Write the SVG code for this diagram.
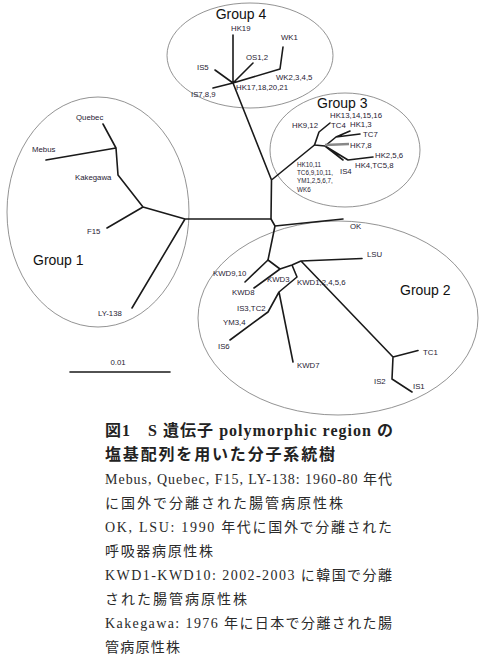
<svg xmlns="http://www.w3.org/2000/svg" width="485" height="657" viewBox="0 0 485 657">
<style>
.grp{fill:none;stroke:#777;stroke-width:0.8}
.br{fill:none;stroke:#1a1a1a;stroke-width:1.6;stroke-linejoin:round;stroke-linecap:round}
.lb{font-family:"Liberation Sans",Arial,sans-serif;font-size:7.8px;fill:#1f2233}
.sm{font-size:6.3px}
.gl{font-family:"Liberation Sans",Arial,sans-serif;font-size:14px;fill:#111}
.ti{font-family:"Liberation Serif","Noto Sans CJK JP",serif;font-size:16px;font-weight:bold;fill:#222}
.tb{font-family:"Liberation Serif","Noto Sans CJK JP",serif;font-size:14px;fill:#2a2a2a}
</style>
<rect width="485" height="657" fill="#fff"/>
<g id="group4">
<ellipse class="grp" cx="250" cy="55.5" rx="83" ry="52.5"/>
<text class="gl" x="241" y="19" text-anchor="middle">Group 4</text>
</g>
<g id="group3">
<ellipse class="grp" cx="345" cy="150" rx="75" ry="57"/>
<text class="gl" x="317" y="108">Group 3</text>
</g>
<g id="group1">
<ellipse class="grp" cx="98" cy="212" rx="91" ry="115"/>
<text class="gl" x="33" y="265">Group 1</text>
</g>
<g id="group2">
<ellipse class="grp" cx="338" cy="318" rx="140" ry="97"/>
<text class="gl" x="400" y="295">Group 2</text>
</g>
<g id="connectors">
<path class="br" d="M233,83 L233,35 M233,83 L215,70 M233,83 L253,63 M233,83 L280,69 L283,47 M233,83 L213,88"/>
<path class="br" d="M233,83 L271.5,180 L314.5,145 M271.5,180 L271,219 L275,226 L343,219 M275,226 L268,260"/>
<path class="br" d="M271,219 L185,219 L143,207 L107,228 M185,219 L132,308 M143,207 L118,175 L116,148 L46,160 M116,148 L103,124"/>
<path class="br" d="M314.5,145 L319,132 L330,123 M314.5,145 L325,146 L336,137 L360,134 M336,137 L350,131 M325,146 L343,160 M325,146 L348,160 L373,157"/>
<path d="M325,145 L349,144" fill="none" stroke="#888" stroke-width="2.6"/>
<path class="br" d="M268,260 L245,282 M268,260 L280,269 L254,288 M280,269 L292,265 L301,261 L362,258.5 M301,261 L393,357 L418,350.5 M393,357 L392,379 L412,392 M292,265 L297,277 L279,292 L293,362 M279,292 L268,312 L230,340"/>
<path class="br" d="M70,372 L170,372"/>
</g>
<g id="labels4">
<text class="lb" x="231" y="31">HK19</text>
<text class="lb" x="197" y="70">IS5</text>
<text class="lb" x="246" y="60">OS1,2</text>
<text class="lb" x="281" y="40">WK1</text>
<text class="lb" x="276" y="80">WK2,3,4,5</text>
<text class="lb" x="191" y="97">IS7,8,9</text>
<text class="lb" x="236" y="90">HK17,18,20,21</text>
</g>
<g id="labels3">
<text class="lb" x="292" y="128">HK9,12</text>
<text class="lb" x="330" y="118">HK13,14,15,16</text>
<text class="lb" x="331" y="128">TC4</text>
<text class="lb" x="350" y="127">HK1,3</text>
<text class="lb" x="363" y="137">TC7</text>
<text class="lb" x="350" y="148">HK7,8</text>
<text class="lb" x="375" y="158">HK2,5,6</text>
<text class="lb" x="355" y="168">HK4,TC5,8</text>
<text class="lb" x="340" y="174">IS4</text>
<text class="lb sm" x="297" y="167">HK10,11</text>
<text class="lb sm" x="297" y="175">TC6,9,10,11,</text>
<text class="lb sm" x="297" y="183">YM1,2,5,6,7,</text>
<text class="lb sm" x="297" y="192">WK6</text>
</g>
<g id="labels1">
<text class="lb" x="76" y="120">Quebec</text>
<text class="lb" x="32" y="152">Mebus</text>
<text class="lb" x="75" y="180">Kakegawa</text>
<text class="lb" x="87" y="234">F15</text>
<text class="lb" x="98" y="316">LY-138</text>
</g>
<g id="labels2">
<text class="lb" x="350" y="229">OK</text>
<text class="lb" x="367" y="257">LSU</text>
<text class="lb" x="213" y="276">KWD9,10</text>
<text class="lb" x="267" y="282">KWD3</text>
<text class="lb" x="232" y="295">KWD8</text>
<text class="lb" x="297" y="285">KWD1,2,4,5,6</text>
<text class="lb" x="237" y="311">IS3,TC2</text>
<text class="lb" x="223" y="325">YM3,4</text>
<text class="lb" x="218" y="349">IS6</text>
<text class="lb" x="297" y="368">KWD7</text>
<text class="lb" x="423" y="355">TC1</text>
<text class="lb" x="374" y="384">IS2</text>
<text class="lb" x="413" y="389">IS1</text>
</g>
<g id="scale">
<text class="lb" x="118" y="365" text-anchor="middle">0.01</text>
</g>
<g id="caption">
<text class="ti" x="105" y="436" textLength="288" lengthAdjust="spacing">図1　S 遺伝子 polymorphic region の</text>
<text class="ti" x="105" y="460" textLength="230" lengthAdjust="spacing">塩基配列を用いた分子系統樹</text>
<text class="tb" x="105" y="484" textLength="287" lengthAdjust="spacing">Mebus, Quebec, F15, LY-138: 1960-80 年代</text>
<text class="tb" x="105" y="508" textLength="238" lengthAdjust="spacing">に国外で分離された腸管病原性株</text>
<text class="tb" x="105" y="532" textLength="287" lengthAdjust="spacing">OK, LSU: 1990 年代に国外で分離された</text>
<text class="tb" x="105" y="556" textLength="108" lengthAdjust="spacing">呼吸器病原性株</text>
<text class="tb" x="105" y="580" textLength="287" lengthAdjust="spacing">KWD1-KWD10: 2002-2003 に韓国で分離</text>
<text class="tb" x="105" y="604" textLength="142" lengthAdjust="spacing">された腸管病原性株</text>
<text class="tb" x="105" y="628" textLength="287" lengthAdjust="spacing">Kakegawa: 1976 年に日本で分離された腸</text>
<text class="tb" x="105" y="652" textLength="75" lengthAdjust="spacing">管病原性株</text>
</g>
</svg>
